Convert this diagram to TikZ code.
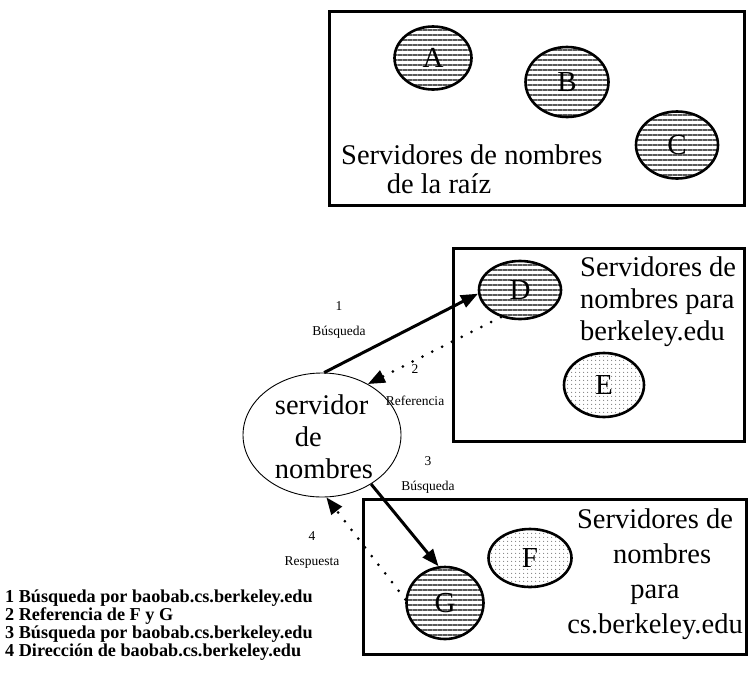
\documentclass[tikz,border=0pt]{standalone}
\usepackage{fontspec}
\setmainfont{Liberation Serif}
\usetikzlibrary{shapes.geometric, arrows.meta, patterns.meta}

\tikzset{
  caja/.style={draw, line width=2.8pt, anchor=north west, inner sep=0pt},
  servidor/.style={draw, ellipse, line width=2.6pt, inner sep=0pt, font=\fontsize{29}{29}\selectfont},
  rayado/.style={servidor, pattern={Lines[angle=0, distance=5pt, line width=1.9pt]}, pattern color=black!65},
  punteado/.style={servidor, pattern={Dots[distance=4pt, radius=0.7pt]}, pattern color=black!50},
  texto/.style={font=\fontsize{28.5}{32}\selectfont, inner sep=0pt},
  etiq/.style={font=\fontsize{13.5}{25}\selectfont, align=center, inner sep=0pt},
  consulta/.style={line width=3pt, -{Triangle[length=17pt, width=13pt]}},
  respuesta/.style={line width=3pt, line cap=round, dash pattern=on 0pt off 11pt, -{Triangle[length=17pt, width=13pt]}},
}

\begin{document}
\begin{tikzpicture}[x=1pt, y=-1pt]
  \useasboundingbox (0,0) rectangle (749,680);

  % las tres zonas
  \node[caja, minimum width=415pt, minimum height=194pt] (raiz) at (328,10) {};
  \node[caja, minimum width=291pt, minimum height=193pt] (berk) at (452,247) {};
  \node[caja, minimum width=383pt, minimum height=155pt] (csb) at (362,498) {};

  % base = ultima linea
  \node[texto, align=left, anchor=base west, font=\fontsize{28.5}{29}\selectfont] (raiztxt) at (341,193)
    {Servidores de nombres\\\hspace*{1.6em}de la raíz};
  \node[texto, align=left, anchor=base west] (berktxt) at (580,340)
    {Servidores de\\nombres para\\berkeley.edu};
  \node[texto, align=center, anchor=base, font=\fontsize{28.5}{35}\selectfont] (csbtxt) at (655,633)
    {Servidores de\\\hspace*{0.5em}nombres\\para\\cs.berkeley.edu};

  % servidores
  \foreach \n/\x/\y/\w/\h in {A/433/58/77/63, B/567/82/83/70, C/677/145/82/67, D/520/290/82/58, G/445/603/77/72}
    \node[rayado, minimum width=\w pt, minimum height=\h pt] (\n) at (\x,\y) {\n};
  \foreach \n/\x/\y/\w/\h in {E/604/385/80/64, F/530/558/83/58}
    \node[punteado, minimum width=\w pt, minimum height=\h pt] (\n) at (\x,\y) {\n};

  % servidor de nombres local
  \node[draw, ellipse, line width=0.9pt, minimum width=158pt, minimum height=124pt] (srv) at (322,435) {};
  \node[texto, align=left] (srvtxt) at (324,437) {servidor\\\hspace*{0.7em}de\\nombres};

  % consultas y respuestas
  \draw[consulta] (srv.88) -- (D.185);
  \draw[respuesta] (D.235) -- (srv.48);
  \draw[consulta] (srv.-45) -- (G.100);
  \draw[respuesta] (G.175) -- (srv.-86);

  \node[etiq] (l1) at (339,320) {1\\Búsqueda};
  \node[etiq] (l2) at (415,385) {2\\[7pt]Referencia};
  \node[etiq] (l3) at (428,475) {3\\Búsqueda};
  \node[etiq] (l4) at (312,550) {4\\Respuesta};

  \node[anchor=base west, align=left, inner sep=0pt, font=\bfseries\fontsize{18.2}{18}\selectfont] (leyenda) at (5,656)
    {1 Búsqueda por baobab.cs.berkeley.edu\\2 Referencia de F y G\\3 Búsqueda por baobab.cs.berkeley.edu\\4 Dirección de baobab.cs.berkeley.edu};
\end{tikzpicture}
\end{document}
